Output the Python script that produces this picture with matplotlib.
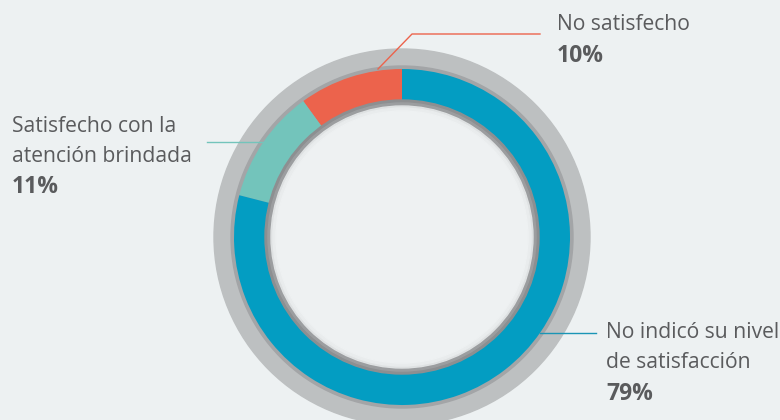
import matplotlib.pyplot as plt
from matplotlib.patches import Circle

# survey answers, drawn counterclockwise from the top
labels = ["No satisfecho", "Satisfecho con la\natención brindada", "No indicó su nivel\nde satisfacción"]
shares = [10, 11, 79]
colors = ["#ec634c", "#73c4bb", "#039dc2"]

BG = "#edf1f2"
TEXT = "#5a5b5d"
W, H = 780, 420
CX, CY = 402, H - 237

plt.rcParams["font.family"] = ["Open Sans", "DejaVu Sans"]

fig = plt.figure(figsize=(7.8, 4.2), dpi=100, facecolor=BG)
ax = fig.add_axes([0, 0, 1, 1])
ax.set_facecolor(BG)

# outer light-grey frame and the thin darker edge under the coloured ring
ax.add_patch(Circle((CX, CY), 188, color="#bdc0c1", zorder=1))
ax.add_patch(Circle((CX, CY), 171, color="#a3a5a7", zorder=1))

ax.pie(shares, colors=colors, startangle=90, counterclock=True, radius=168,
       center=(CX, CY), wedgeprops=dict(width=34, linewidth=0), frame=True)

# inner grey rim with a soft step, then the pale centre
ax.add_patch(Circle((CX, CY), 137, color="#8d8f91", zorder=3))
ax.add_patch(Circle((CX, CY), 134, color="#9c9ea0", zorder=3))
ax.add_patch(Circle((CX, CY), 131, color="#dfe2e3", zorder=3))
ax.add_patch(Circle((CX, CY), 129, color="#e9eced", zorder=3))
ax.add_patch(Circle((CX, CY), 126, color="#eef1f2", zorder=3))

# leader lines
ax.plot([378, 412, 540], [H - 69, H - 34, H - 34], color="#ec634c", lw=1, zorder=4)
ax.plot([207, 263], [H - 142, H - 142], color="#73c4bb", lw=1, zorder=4)
ax.plot([540, 596], [H - 333, H - 333], color="#1a95b5", lw=1, zorder=4)

# labels, one text per line so the spacing stays fixed
fs = 15.2
fs_pct = 16.5
ax.text(557, H - 24, labels[0], fontsize=fs, color=TEXT, va="center", ha="left")
ax.text(557, H - 56, f"{shares[0]}%", fontsize=fs_pct, color=TEXT, va="center", ha="left", fontweight="bold")

for i, line in enumerate(labels[1].split("\n")):
    ax.text(12, H - 127 - 30 * i, line, fontsize=fs, color=TEXT, va="center", ha="left")
ax.text(12, H - 187, f"{shares[1]}%", fontsize=fs_pct, color=TEXT, va="center", ha="left", fontweight="bold")

for i, line in enumerate(labels[2].split("\n")):
    ax.text(606, H - 333 - 30 * i, line, fontsize=fs, color=TEXT, va="center", ha="left")
ax.text(606, H - 394, f"{shares[2]}%", fontsize=fs_pct, color=TEXT, va="center", ha="left", fontweight="bold")

ax.set_xlim(0, W)
ax.set_ylim(0, H)
ax.set_aspect("equal")
ax.axis("off")

fig.savefig("out.png", dpi=100, facecolor=BG)
